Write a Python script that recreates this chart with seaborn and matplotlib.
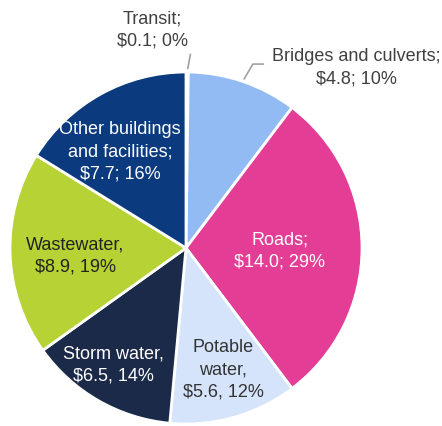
import matplotlib
matplotlib.use("Agg")
import matplotlib.pyplot as plt
import seaborn as sns

sns.set_theme(style="white")
plt.rcParams["font.family"] = ["Liberation Sans", "DejaVu Sans"]

# asset values ($bn) and shares, clockwise from the top
categories = ["Transit", "Bridges and culverts", "Roads", "Potable water",
              "Storm water", "Wastewater", "Other buildings and facilities"]
values = [0.1, 4.8, 14.0, 5.6, 6.5, 8.9, 7.7]
shares = [0, 10, 29, 12, 14, 19, 16]
colors = ["#FFFFFF", "#93BBF3", "#E33D95", "#D5E4FA", "#1C2A4A", "#B6D234", "#0B3A7E"]

label_text = [
    "Transit;\n$0.1; 0%",
    "Bridges and culverts;\n$4.8; 10%",
    "Roads;\n$14.0; 29%",
    "Potable\nwater,\n$5.6, 12%",
    "Storm water,\n$6.5, 14%",
    "Wastewater,\n$8.9, 19%",
    "Other buildings\nand facilities;\n$7.7; 16%",
]
label_colors = ["#404040", "#404040", "#FFFFFF", "#333333", "#FFFFFF", "#222222", "#FFFFFF"]
# label positions relative to the pie centre, in radius units
label_pos = [(-0.19, 1.24), (0.966, 1.023), (0.534, -0.017), (0.21, -0.693),
             (-0.415, -0.665), (-0.63, -0.045), (-0.375, 0.545)]

fig = plt.figure(figsize=(4.42, 4.26), dpi=100)
ax = fig.add_axes([0, 0, 1, 1])
ax.pie(values, colors=colors, startangle=90, counterclock=False, radius=1,
       wedgeprops=dict(edgecolor="white", linewidth=2))
ax.set_aspect("auto")
ax.set_xlim(-186 / 176, 256 / 176)
ax.set_ylim(-178 / 176, 248 / 176)
ax.axis("off")

for txt, col, (x, y) in zip(label_text, label_colors, label_pos):
    ax.text(x, y, txt, ha="center", va="center", color=col, fontsize=13,
            linespacing=1.4)

# leader lines for the two outside labels
ax.plot([0.01, 0.025], [1.02, 1.1], color="#A0A0A0", lw=1.2)
ax.plot([0.33, 0.38, 0.44], [0.96, 1.045, 1.045], color="#A0A0A0", lw=1.2)

plt.savefig("out.png", dpi=100)
